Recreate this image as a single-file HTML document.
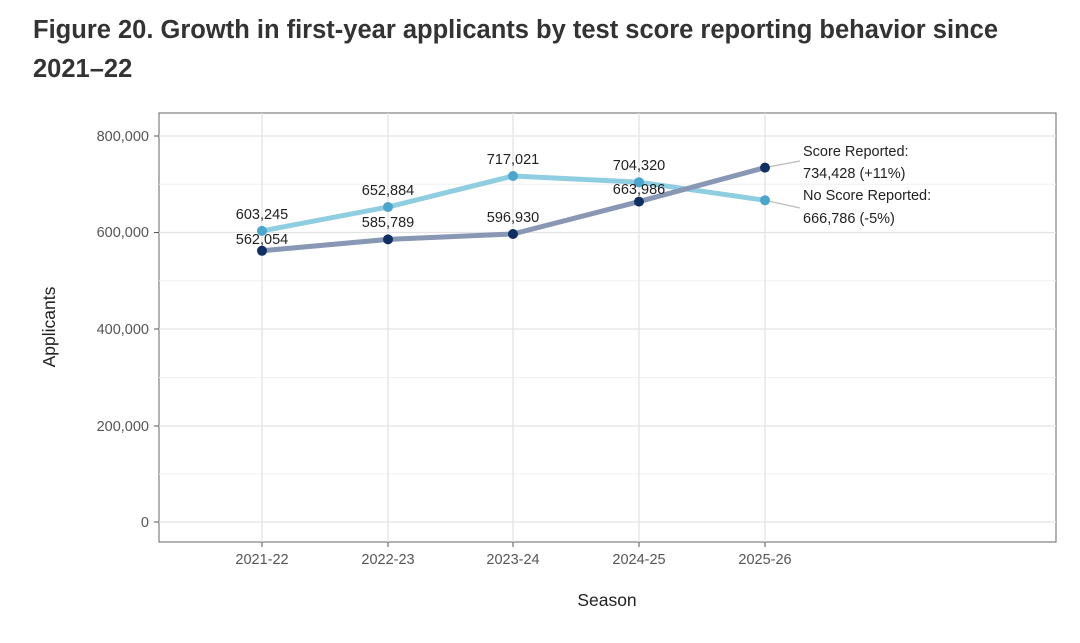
<!DOCTYPE html>
<html><head><meta charset="utf-8"><style>
body{margin:0;background:#fff;width:1080px;height:638px;overflow:hidden}
</style></head><body>
<svg width="1080" height="638" xmlns="http://www.w3.org/2000/svg" font-family="Liberation Sans, sans-serif">
<text x="33" y="38" font-size="25.5" font-weight="bold" fill="#333">Figure 20. Growth in first-year applicants by test score reporting behavior since</text>
<text x="33" y="77" font-size="25.5" font-weight="bold" fill="#333">2021–22</text>
<rect x="159" y="113" width="897" height="429" fill="#fff" stroke="#666" stroke-width="1"/>
<g stroke="#f0f0f0" stroke-width="1">
<line x1="159" x2="1056" y1="184.25" y2="184.25"/><line x1="159" x2="1056" y1="280.75" y2="280.75"/><line x1="159" x2="1056" y1="377.5" y2="377.5"/><line x1="159" x2="1056" y1="474" y2="474"/>
</g>
<g stroke="#e3e3e3" stroke-width="1.3">
<line x1="159" x2="1056" y1="136" y2="136"/><line x1="159" x2="1056" y1="232.5" y2="232.5"/><line x1="159" x2="1056" y1="329" y2="329"/><line x1="159" x2="1056" y1="426" y2="426"/><line x1="159" x2="1056" y1="522" y2="522"/>
<line x1="262" x2="262" y1="113" y2="542"/><line x1="388" x2="388" y1="113" y2="542"/><line x1="513" x2="513" y1="113" y2="542"/><line x1="639" x2="639" y1="113" y2="542"/><line x1="765" x2="765" y1="113" y2="542"/>
</g>
<g font-size="14.5" fill="#555" text-anchor="end">
<text x="149" y="141">800,000</text><text x="149" y="237">600,000</text><text x="149" y="334">400,000</text><text x="149" y="431">200,000</text><text x="149" y="527">0</text>
</g>
<g stroke="#555"><line x1="154" x2="159" y1="136" y2="136"/><line x1="154" x2="159" y1="232.5" y2="232.5"/><line x1="154" x2="159" y1="329" y2="329"/><line x1="154" x2="159" y1="426" y2="426"/><line x1="154" x2="159" y1="522" y2="522"/>
<line x1="262" x2="262" y1="542" y2="547"/><line x1="388" x2="388" y1="542" y2="547"/><line x1="513" x2="513" y1="542" y2="547"/><line x1="639" x2="639" y1="542" y2="547"/><line x1="765" x2="765" y1="542" y2="547"/></g>
<g font-size="14.5" fill="#555" text-anchor="middle">
<text x="262" y="564">2021-22</text><text x="388" y="564">2022-23</text><text x="513" y="564">2023-24</text><text x="639" y="564">2024-25</text><text x="765" y="564">2025-26</text>
</g>
<text x="607" y="606" font-size="17.5" fill="#222" text-anchor="middle">Season</text>
<text transform="translate(55,327) rotate(-90)" font-size="17.5" fill="#222" text-anchor="middle">Applicants</text>
<g stroke="#bbb" stroke-width="1.2"><line x1="765" y1="167.6" x2="800" y2="161"/><line x1="765" y1="200.3" x2="800" y2="208"/></g>
<polyline points="262,230.9 388,207 513,176 639,182.2 765,200.3" fill="none" stroke="#8fcde0" stroke-width="5" stroke-linejoin="round"/>
<polyline points="262,250.8 388,239.4 513,234 639,201.6 765,167.6" fill="none" stroke="#8797b4" stroke-width="5" stroke-linejoin="round"/>
<g fill="#4aa6cc"><circle cx="262" cy="230.9" r="5"/><circle cx="388" cy="207" r="5"/><circle cx="513" cy="176" r="5"/><circle cx="639" cy="182.2" r="5"/><circle cx="765" cy="200.3" r="5"/></g>
<g fill="#102f63"><circle cx="262" cy="250.8" r="5"/><circle cx="388" cy="239.4" r="5"/><circle cx="513" cy="234" r="5"/><circle cx="639" cy="201.6" r="5"/><circle cx="765" cy="167.6" r="5"/></g>
<g font-size="14.5" fill="#222" text-anchor="middle">
<text x="262" y="219">603,245</text><text x="388" y="195">652,884</text><text x="513" y="164">717,021</text><text x="639" y="170">704,320</text>
<text x="262" y="244">562,054</text><text x="388" y="227">585,789</text><text x="513" y="222">596,930</text><text x="639" y="194">663,986</text>
</g>
<g font-size="14.5" fill="#222">
<text x="803" y="156">Score Reported:</text><text x="803" y="178">734,428 (+11%)</text>
<text x="803" y="200">No Score Reported:</text><text x="803" y="223">666,786 (-5%)</text>
</g>
</svg>
</body></html>
